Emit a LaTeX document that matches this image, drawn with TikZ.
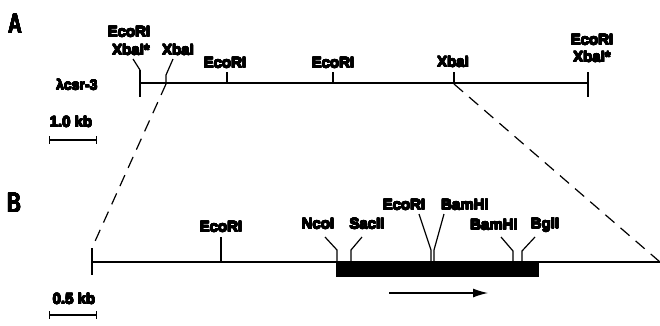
\documentclass[tikz,border=0pt]{standalone}
\usepackage{fontspec}
\setmainfont{Liberation Sans}
\newfontfamily\panelfont[FakeStretch=0.68]{Liberation Sans Bold}
\usepackage{contour}
\contourlength{0.4pt}
\contournumber{16}
\newcommand{\heavy}[1]{\contour{black}{#1}}
\usetikzlibrary{arrows.meta}

\tikzset{
  site/.style={font=\bfseries\fontsize{15}{15}\selectfont, inner sep=0pt},
  panel/.style={font=\panelfont\fontsize{28}{28}\selectfont, inner sep=0pt},
  mapline/.style={line width=1.5pt},
  leader/.style={line width=1.2pt},
}

\begin{document}
\begin{tikzpicture}[x=1pt, y=-1pt, >={Latex[length=15pt,width=9pt]}]
    \useasboundingbox (0,0) rectangle (660,325);

    % Panel A: lambda clone
    \node[panel] (lblA) at (15,24) {\heavy{A}};
    \node[site, anchor=west, font=\bfseries\fontsize{14}{14}\selectfont] (clone) at (56,85) {\heavy{λcsr-3}};
    \draw[mapline] (140,83) -- (589,83);
    \draw[mapline] (140,70) -- (140,97);
    \draw[mapline] (588,72) -- (588,97);

    % Sites on the lambda clone
    \node[site] (aE1) at (129,32) {\heavy{EcoRI}};
    \node[site] (aX1) at (131,50) {\heavy{XbaI*}};
    \draw[leader] (140,70) -- (133,59);
    \node[site] (aX2) at (178,50) {\heavy{XbaI}};
    \draw[leader] (166,83) -- (166,75) -- (173,59);
    \node[site] (aE2) at (225,63) {\heavy{EcoRI}};
    \draw[leader] (227,83) -- (227,72);
    \node[site] (aE3) at (333,63) {\heavy{EcoRI}};
    \draw[leader] (333,83) -- (333,72);
    \node[site] (aX3) at (453,62) {\heavy{XbaI}};
    \draw[leader] (454,83) -- (454,72);
    \node[site] (aE4) at (592,40) {\heavy{EcoRI}};
    \node[site] (aX4) at (592,57) {\heavy{XbaI*}};

    % Scale A
    \node[site] (scaleA) at (71,122) {\heavy{1.0 kb}};
    \draw[leader, |-|] (49,140) -- (97,140);

    % Zoom lines
    \coordinate (zA1) at (166,84);
    \coordinate (zA2) at (454,84);
    \coordinate (zB1) at (92,248);
    \coordinate (zB2) at (660,262);
    \draw[leader, dash pattern=on 12pt off 8pt] (zA1) -- (zB1);
    \draw[leader, dash pattern=on 12pt off 8pt] (zA2) -- (zB2);

    % Panel B: XbaI fragment
    \node[panel] (lblB) at (14,203) {\heavy{B}};
    \draw[mapline] (92,262) -- (660,262);
    \draw[mapline] (92,248) -- (92,275);
    \fill (336,262) rectangle (539,277);

    % Sites on the fragment
    \node[site] (bE1) at (221,227) {\heavy{EcoRI}};
    \draw[leader] (221,262) -- (221,237);
    \node[site] (bN) at (318,224) {\heavy{NcoI}};
    \draw[leader] (337,262) -- (337,250) -- (325,237);
    \node[site] (bS) at (367,224) {\heavy{SacII}};
    \draw[leader] (351,262) -- (351,250) -- (362,237);
    \node[site] (bE2) at (404,205) {\heavy{EcoRI}};
    \draw[leader] (431,262) -- (431,250) -- (419,214);
    \node[site] (bB1) at (465,205) {\heavy{BamHI}};
    \draw[leader] (434,262) -- (434,250) -- (444,214);
    \node[site] (bB2) at (494,225) {\heavy{BamHI}};
    \draw[leader] (513,262) -- (513,251) -- (501,237);
    \node[site] (bG) at (545,225) {\heavy{BglI}};
    \draw[leader] (522,262) -- (522,251) -- (535,237);

    % Direction of transcription
    \coordinate (tr1) at (389,293);
    \coordinate (tr2) at (488,293);
    \draw[leader, ->] (tr1) -- (tr2);

    % Scale B
    \node[site] (scaleB) at (74,299) {\heavy{0.5 kb}};
    \draw[leader, |-|] (49,315) -- (97,315);
\end{tikzpicture}
\end{document}
